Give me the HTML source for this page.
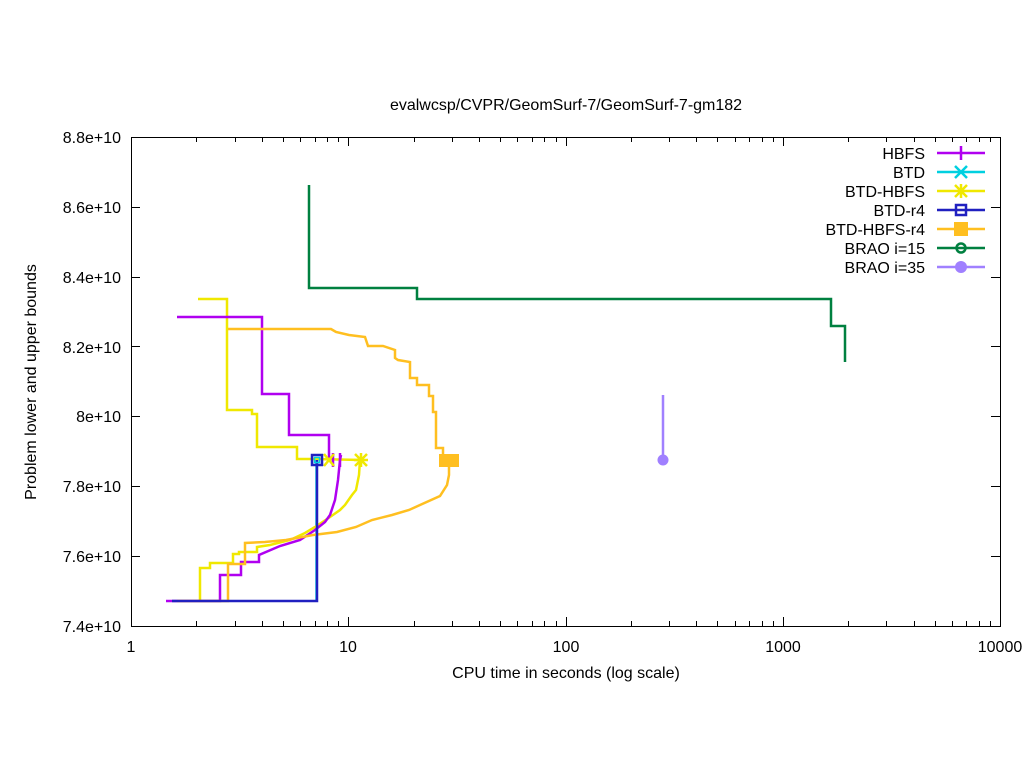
<!DOCTYPE html>
<html><head><meta charset="utf-8"><style>body{margin:0;background:#fff}svg{display:block}text{font-family:"Liberation Sans",sans-serif;font-size:16px;fill:#000}</style></head>
<body>
<svg width="1024" height="768" xmlns="http://www.w3.org/2000/svg">
<rect width="1024" height="768" fill="#fff"/>
<path stroke="#000" stroke-width="1" fill="none" d="
M131.5,626v-9M131.5,137v9
M196.5,626v-5M196.5,137v5M235.5,626v-5M235.5,137v5M262.5,626v-5M262.5,137v5M283.5,626v-5M283.5,137v5M300.5,626v-5M300.5,137v5M315.5,626v-5M315.5,137v5M327.5,626v-5M327.5,137v5M338.5,626v-5M338.5,137v5
M348.5,626v-9M348.5,137v9
M414.5,626v-5M414.5,137v5M452.5,626v-5M452.5,137v5M479.5,626v-5M479.5,137v5M500.5,626v-5M500.5,137v5M517.5,626v-5M517.5,137v5M532.5,626v-5M532.5,137v5M544.5,626v-5M544.5,137v5M556.5,626v-5M556.5,137v5
M566.5,626v-9M566.5,137v9
M631.5,626v-5M631.5,137v5M669.5,626v-5M669.5,137v5M696.5,626v-5M696.5,137v5M717.5,626v-5M717.5,137v5M735.5,626v-5M735.5,137v5M749.5,626v-5M749.5,137v5M762.5,626v-5M762.5,137v5M773.5,626v-5M773.5,137v5
M783.5,626v-9M783.5,137v9
M848.5,626v-5M848.5,137v5M886.5,626v-5M886.5,137v5M914.5,626v-5M914.5,137v5M935.5,626v-5M935.5,137v5M952.5,626v-5M952.5,137v5M966.5,626v-5M966.5,137v5M979.5,626v-5M979.5,137v5M990.5,626v-5M990.5,137v5
M131,556.5h9M1000,556.5h-9M131,486.5h9M1000,486.5h-9M131,416.5h9M1000,416.5h-9M131,346.5h9M1000,346.5h-9M131,277.5h9M1000,277.5h-9M131,207.5h9M1000,207.5h-9
"/>
<rect x="131.5" y="137.5" width="869" height="489" fill="none" stroke="#000"/>
<text x="566" y="110" text-anchor="middle">evalwcsp/CVPR/GeomSurf-7/GeomSurf-7-gm182</text>
<text x="566" y="678" text-anchor="middle">CPU time in seconds (log scale)</text>
<text transform="translate(36,382) rotate(-90)" text-anchor="middle">Problem lower and upper bounds</text>
<g text-anchor="end">
<text x="121" y="143">8.8e+10</text><text x="121" y="213">8.6e+10</text><text x="121" y="283">8.4e+10</text><text x="121" y="353">8.2e+10</text><text x="121" y="422">8e+10</text><text x="121" y="492">7.8e+10</text><text x="121" y="562">7.6e+10</text><text x="121" y="632">7.4e+10</text>
</g>
<g text-anchor="middle">
<text x="131" y="652">1</text><text x="348" y="652">10</text><text x="566" y="652">100</text><text x="783" y="652">1000</text><text x="1000" y="652">10000</text>
</g>
<g fill="none" stroke-width="2.5">
<polyline stroke="#00d0e0" stroke-width="1.5" points="316,460 316,600"/>
<polyline stroke="#f0e800" points="198,299 227,299 227,410 252,410 252,414 257,414 257,447 297,447 297,459 317,459 361,460"/>
<polyline stroke="#f0e800" points="200,601 200,568 210,568 210,563 233,563 233,554 239,554 239,552 257,552 257,547 270,545 290,540 305,533 315,527 330,517 340,510 345,505 352,495 356,490 359,475 360,460"/>
<polyline stroke="#b000f0" points="177,317 262,317 262,394 289,394 289,435 329,435 329,460"/>
<polyline stroke="#b000f0" points="166,601 220,601 220,575 241,575 241,562 259,562 259,555 280,546 300,540 315,530 325,522 330,515 335,500 338,480 340,460 341,455"/>
<polyline stroke="#ffbf20" points="228,329 331,329 336,332 349,335 365,337 368,346 383,346 395,350 395,358 398,360 410,362 410,378 417,378 417,385 429,385 429,396 433,396 433,412 436,412 436,448 443,448 443,458 449,460"/>
<polyline stroke="#ffbf20" points="177,601 228,601 228,564 245,564 245,543 265,542 286,540 313,535 337,532 356,527 372,520 392,515 409,510 420,505 440,496 447,485 449,475 449,460"/>
<polyline stroke="#2020c0" points="172,601 317,601 317,460"/>
<polyline stroke="#008040" points="309,185 309,288 417,288 417,299 831,299 831,326 845,326 845,362"/>
<polyline stroke="#a080ff" points="663,395 663,460"/>
</g>
<g stroke-width="2.5" fill="none">
<path d="M333,453v14M340,453v14" stroke="#b000f0"/>
<path d="M355,454l12,12M367,454l-12,12M361,453v14M354,460h14" stroke="#f0e800"/>
<path d="M324,454l10,12M334,454l-10,12" stroke="#f0e800"/>
<rect x="312" y="455" width="10" height="10" stroke="#2020c0"/>
<rect x="314.5" y="457.5" width="5" height="5" stroke="#00d0e0" stroke-width="1.5"/>
</g>
<rect x="439" y="454" width="20" height="13" fill="#ffbf20"/>
<circle cx="663" cy="460" r="5.5" fill="#a080ff"/>
<g text-anchor="end">
<text x="925" y="159">HBFS</text><text x="925" y="178">BTD</text><text x="925" y="197">BTD-HBFS</text><text x="925" y="216">BTD-r4</text><text x="925" y="235">BTD-HBFS-r4</text><text x="925" y="254">BRAO i=15</text><text x="925" y="273">BRAO i=35</text>
</g>
<g stroke-width="2.5" fill="none">
<path d="M937,153h48M961,146v14" stroke="#b000f0"/>
<path d="M937,172h48M955,166l12,12M967,166l-12,12" stroke="#00d0e0"/>
<path d="M937,191h48M955,185l12,12M967,185l-12,12M961,184v14" stroke="#f0e800"/>
<path d="M937,210h48" stroke="#2020c0"/><rect x="956" y="205" width="10" height="10" stroke="#2020c0"/>
<path d="M937,229h48" stroke="#ffbf20"/><rect x="954" y="222" width="14" height="14" fill="#ffbf20" stroke="none"/>
<path d="M937,248h48" stroke="#008040"/><circle cx="961" cy="248" r="4.5" stroke="#008040"/>
<path d="M937,267h48" stroke="#a080ff"/><circle cx="961" cy="267" r="6" fill="#a080ff" stroke="none"/>
</g>
</svg>
</body></html>
